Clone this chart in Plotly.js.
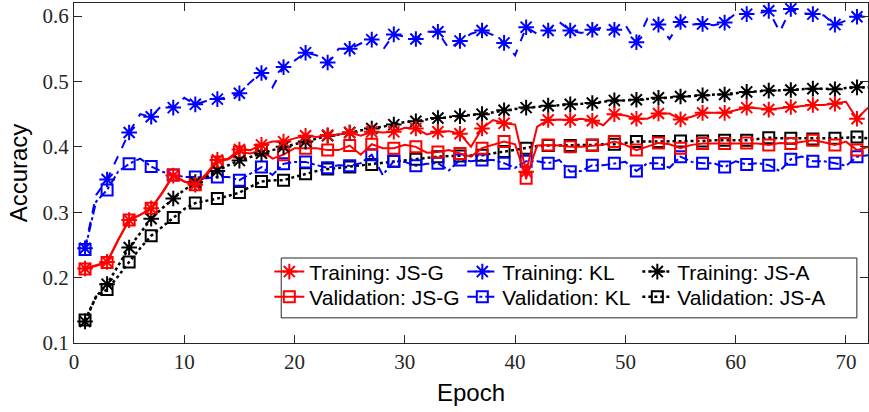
<!DOCTYPE html>
<html>
<head>
<meta charset="utf-8">
<script src="https://cdn.plot.ly/plotly-3.0.1.min.js"></script>
<style>html,body{margin:0;padding:0;background:#fff;}#chart{width:869px;height:412px;}</style>
</head>
<body>
<div id="chart"></div>
<script>
// Epochs 1..72
const epochs = Array.from({length: 72}, (_, i) => i + 1);

const trainJSG = [0.214,0.219,0.224,0.258,0.288,0.296,0.306,0.329,0.356,0.347,0.342,0.359,0.380,0.382,0.396,0.395,0.403,0.408,0.408,0.413,
  0.417,0.415,0.418,0.419,0.422,0.417,0.423,0.422,0.423,0.429,0.428,0.419,0.423,0.424,0.420,0.400,0.428,0.441,0.436,0.434,
  0.362,0.431,0.441,0.442,0.441,0.443,0.440,0.433,0.450,0.448,0.443,0.443,0.451,0.451,0.442,0.446,0.452,0.452,0.452,0.456,
  0.460,0.459,0.457,0.459,0.461,0.462,0.464,0.464,0.466,0.469,0.443,0.460];

const trainKL = [0.245,0.326,0.350,0.385,0.422,0.450,0.446,0.464,0.460,0.475,0.465,0.470,0.473,0.476,0.482,0.499,0.513,0.491,0.522,0.532,
  0.544,0.540,0.529,0.550,0.550,0.558,0.564,0.548,0.572,0.569,0.565,0.576,0.576,0.550,0.562,0.573,0.578,0.571,0.559,0.540,
  0.583,0.573,0.578,0.591,0.578,0.574,0.579,0.583,0.579,0.586,0.560,0.596,0.587,0.565,0.591,0.587,0.588,0.586,0.590,0.604,
  0.603,0.604,0.608,0.576,0.611,0.604,0.603,0.601,0.587,0.593,0.599,0.605];

const trainJSA = [0.133,0.171,0.190,0.217,0.246,0.268,0.290,0.306,0.321,0.334,0.346,0.354,0.363,0.372,0.379,0.385,0.390,0.395,0.400,0.404,
  0.408,0.413,0.417,0.419,0.422,0.424,0.428,0.431,0.434,0.438,0.439,0.442,0.444,0.446,0.447,0.449,0.450,0.453,0.456,0.458,
  0.460,0.461,0.463,0.464,0.465,0.466,0.467,0.469,0.471,0.471,0.472,0.473,0.475,0.476,0.477,0.478,0.479,0.480,0.480,0.482,
  0.484,0.485,0.486,0.486,0.487,0.488,0.489,0.489,0.488,0.490,0.491,0.491];

const valJSG = [0.213,0.218,0.223,0.257,0.288,0.296,0.306,0.330,0.357,0.347,0.342,0.356,0.377,0.381,0.392,0.390,0.395,0.382,0.388,0.398,
  0.398,0.398,0.395,0.395,0.402,0.388,0.404,0.398,0.398,0.403,0.400,0.391,0.392,0.395,0.390,0.385,0.398,0.403,0.408,0.404,
  0.352,0.402,0.403,0.402,0.400,0.400,0.402,0.403,0.408,0.403,0.395,0.400,0.406,0.404,0.398,0.403,0.405,0.405,0.405,0.405,
  0.406,0.405,0.403,0.406,0.405,0.407,0.410,0.407,0.403,0.408,0.395,0.400];

const valKL = [0.243,0.316,0.334,0.362,0.374,0.382,0.370,0.362,0.357,0.354,0.354,0.352,0.354,0.354,0.349,0.359,0.369,0.357,0.374,0.377,
  0.377,0.372,0.368,0.372,0.371,0.375,0.388,0.357,0.378,0.377,0.371,0.374,0.375,0.364,0.380,0.378,0.380,0.380,0.375,0.368,
  0.378,0.378,0.375,0.380,0.362,0.363,0.372,0.372,0.375,0.377,0.363,0.375,0.375,0.368,0.385,0.377,0.375,0.375,0.369,0.378,
  0.373,0.375,0.372,0.363,0.381,0.385,0.378,0.378,0.375,0.371,0.385,0.387];

const valJSA = [0.135,0.171,0.182,0.202,0.224,0.245,0.264,0.278,0.292,0.305,0.314,0.317,0.321,0.325,0.330,0.339,0.347,0.349,0.349,0.354,
  0.359,0.363,0.366,0.368,0.369,0.371,0.373,0.375,0.378,0.380,0.381,0.383,0.385,0.386,0.386,0.387,0.387,0.390,0.393,0.396,
  0.398,0.401,0.402,0.402,0.402,0.403,0.403,0.404,0.404,0.406,0.408,0.408,0.408,0.409,0.409,0.409,0.409,0.410,0.410,0.410,
  0.410,0.412,0.414,0.413,0.413,0.412,0.412,0.413,0.413,0.414,0.415,0.413];

const seriesNames = ['Training: JS-G','Training: KL','Training: JS-A','Validation: JS-G','Validation: KL','Validation: JS-A'];
const xTicks = [0,10,20,30,40,50,60,70];
const yTicks = [0.1,0.2,0.3,0.4,0.5,0.6];
const yTickText = ['0.1','0.2','0.3','0.4','0.5','0.6'];

// markers only on odd epochs (every second point)
function markerSizes(s) {
  return epochs.map(e => (e % 2 === 1) ? s : 0);
}

// data trace (no legend entry) + legend proxy (no data drawn)
function mk(name, y, col, dash, symbol, msize, lw, legend, lwidth) {
  const line = {color: col, width: lw, dash: dash};
  return [{
    x: epochs, y: y, name: name, type: 'scatter', mode: 'lines+markers',
    line: line,
    marker: {symbol: symbol, size: markerSizes(msize), color: col, opacity: 1, line: {width: 2, color: col}},
    showlegend: false, cliponaxis: true
  }, {
    x: [null], y: [null], name: name, type: 'scatter', mode: 'lines+markers',
    line: line,
    marker: {symbol: symbol, size: msize, color: col, opacity: 1, line: {width: 2, color: col}},
    legend: legend, legendwidth: lwidth, showlegend: true
  }];
}

const traces = [].concat(
  mk(seriesNames[5], valJSA, '#000000', 'dot', 'square-open', 11, 2.5, 'legend2', 150),
  mk(seriesNames[4], valKL, '#0000ff', 'dashdot', 'square-open', 11, 2, 'legend2', 130),
  mk(seriesNames[3], valJSG, '#ff0000', 'solid', 'square-open', 11, 2, 'legend2', 148),
  mk(seriesNames[2], trainJSA, '#000000', 'dot', 'asterisk', 13, 2.5, 'legend', 150),
  mk(seriesNames[1], trainKL, '#0000ff', 'dash', 'asterisk', 13, 2, 'legend', 130),
  mk(seriesNames[0], trainJSG, '#ff0000', 'solid', 'asterisk', 13, 2, 'legend', 148)
);

const axisCol = '#262626';
const tickFont = {family: 'Liberation Serif, DejaVu Serif, serif', size: 21, color: axisCol};
const sansFont = 'Liberation Sans, Arial, sans-serif';

const legendCommon = {
  orientation: 'h', xanchor: 'left', yanchor: 'middle', x: 0.246,
  bgcolor: 'rgba(0,0,0,0)', borderwidth: 0, traceorder: 'reversed',
  itemwidth: 30, entrywidthmode: 'pixels',
  font: {family: sansFont, size: 21, color: '#000'}
};

const layout = {
  width: 869, height: 412,
  margin: {l: 74, r: 1, t: 3, b: 69},
  paper_bgcolor: '#fff', plot_bgcolor: '#fff',
  showlegend: true,
  xaxis: {
    range: [0, 72], tickvals: xTicks, ticks: 'inside', ticklen: 8, tickwidth: 1, tickcolor: axisCol,
    showline: true, linecolor: axisCol, linewidth: 1, mirror: 'ticks', showgrid: false, zeroline: false,
    tickfont: tickFont,
    title: {text: 'Epoch', font: {family: sansFont, size: 24, color: '#000'}, standoff: 10}
  },
  yaxis: {
    range: [0.1, 0.62], tickvals: yTicks, ticktext: yTickText, ticks: 'inside', ticklen: 8, tickwidth: 1, tickcolor: axisCol,
    showline: true, linecolor: axisCol, linewidth: 1, mirror: 'ticks', showgrid: false, zeroline: false,
    tickfont: tickFont,
    title: {text: 'Accuracy', font: {family: sansFont, size: 24, color: '#000'}, standoff: 8}
  },
  legend: Object.assign({}, legendCommon, {y: 0.209}),
  legend2: Object.assign({}, legendCommon, {y: 0.135}),
  shapes: [{
    type: 'rect', xref: 'paper', yref: 'paper', x0: 0.261, x1: 0.986, y0: 0.074, y1: 0.25,
    line: {color: axisCol, width: 1}, fillcolor: '#ffffff', layer: 'above'
  }]
};

Plotly.newPlot('chart', traces, layout, {displayModeBar: false, staticPlot: true});
</script>
</body>
</html>
